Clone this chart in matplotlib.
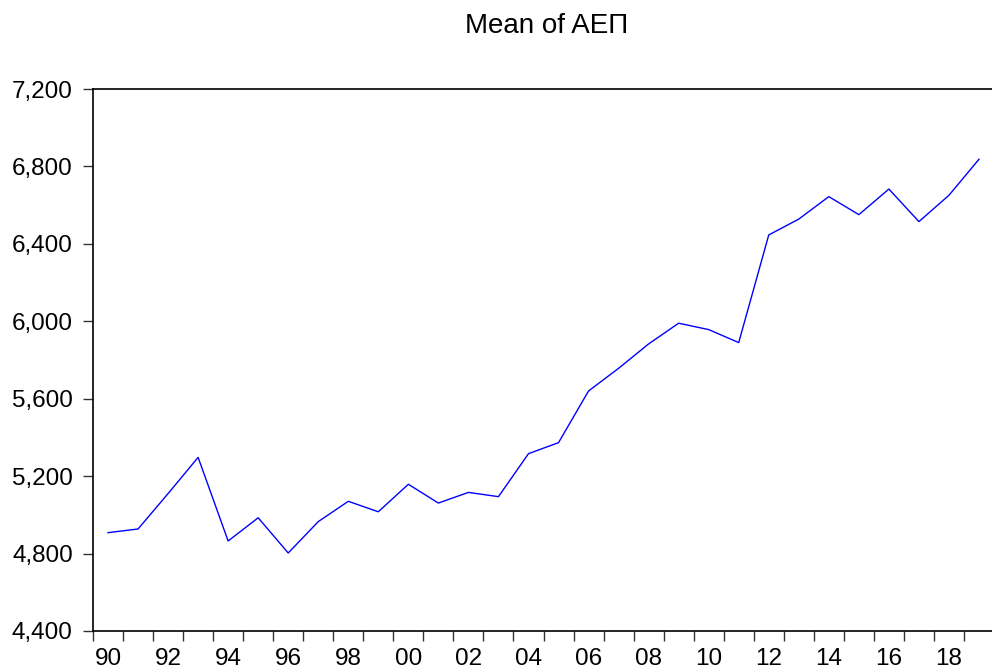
import matplotlib
matplotlib.use("Agg")
import matplotlib.pyplot as plt
from matplotlib.ticker import FuncFormatter, FixedLocator

plt.rcParams['font.family'] = ['Liberation Sans', 'DejaVu Sans']

# yearly means
years = list(range(1990, 2020))
mean_aep = [4908, 4927, 5110, 5297, 4865, 4985, 4803, 4965, 5070, 5016,
            5158, 5061, 5116, 5094, 5316, 5373, 5640, 5757, 5883, 5990,
            5957, 5890, 6446, 6528, 6644, 6551, 6683, 6515, 6651, 6837]
year_labels = [str(y)[2:] for y in years[::2]]

fig = plt.figure(figsize=(9.92, 6.69), dpi=100)
ax = fig.add_axes([93 / 992, 1 - 631 / 669, 901 / 992, 542 / 669])

ax.plot(years, mean_aep, color="#0000ff", lw=1.0)

ax.set_xlim(1989.5, 2019.5)
ax.set_ylim(4400, 7200)
ax.set_yticks(range(4400, 7201, 400))
ax.yaxis.set_major_formatter(FuncFormatter(lambda v, p: f"{int(v):,}"))

# labels centred on even years, tick marks on year boundaries
ax.set_xticks(years[::2])
ax.set_xticklabels(year_labels)
ax.xaxis.set_minor_locator(FixedLocator([y - 0.5 for y in years] + [2019.5]))
ax.tick_params(axis="x", which="major", length=0, pad=12, labelsize=17.5)
ax.tick_params(axis="x", which="minor", length=7.5, width=1.0, color="#333333")
ax.tick_params(axis="y", length=7.5, width=1.0, pad=7, labelsize=17.5, color="#333333")

for s in ax.spines.values():
    s.set_linewidth(1.2)
    s.set_color("black")

fig.text(546.5 / 992, 1 - 26 / 669, "Mean of AEΠ", ha="center", va="center", fontsize=20)

fig.savefig("out.png", dpi=100)
